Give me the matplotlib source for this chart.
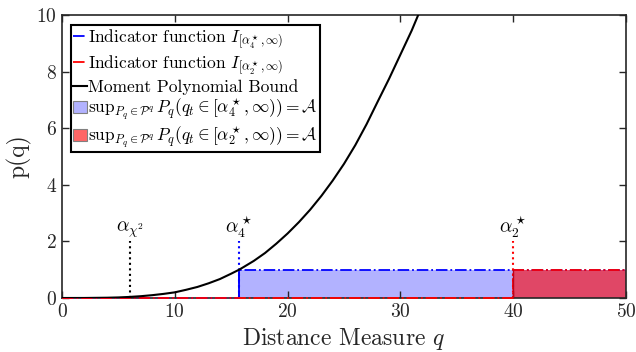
import matplotlib
matplotlib.use("Agg")
import matplotlib.pyplot as plt
from matplotlib.patches import Patch

plt.rcParams['font.family'] = ['cmr10', 'DejaVu Serif']
plt.rcParams['mathtext.fontset'] = 'cm'
plt.rcParams['axes.unicode_minus'] = False
plt.rcParams['axes.formatter.use_mathtext'] = True

# Data
q_curve = [0, 2, 4, 5, 6, 7, 8, 9, 10, 11, 12, 13, 14, 15, 15.7, 16, 17, 18, 19, 20, 21, 22,
           23, 24, 25, 26, 27, 28, 29, 30, 31, 32]
p_curve = [0, 0.001, 0.01, 0.02, 0.038, 0.064, 0.10, 0.145, 0.20, 0.29, 0.39, 0.52, 0.67,
           0.86, 1.0, 1.07, 1.31, 1.59, 1.92, 2.28, 2.68, 3.12, 3.61, 4.15, 4.74, 5.4,
           6.14, 6.95, 7.75, 8.6, 9.45, 10.4]
alpha_chi2 = 6.0
alpha_4 = 15.7
alpha_2 = 40.0
q_max = 50
marker_height = 2.0
labels = [r'$\alpha_{\chi^2}$', r'$\alpha_4^\star$', r'$\alpha_2^\star$']

fig = plt.figure(figsize=(6.36, 3.52), dpi=100)
ax = fig.add_axes([62/636, 1-298/352, 564/636, 283/352])

blue_fill = (0.0, 0.0, 1.0, 0.3)
red_fill = (1.0, 0.0, 0.0, 0.6)

ax.fill_between([alpha_4, q_max], [1, 1], [0, 0], color=blue_fill, lw=0, zorder=1)
ax.fill_between([alpha_2, q_max], [1, 1], [0, 0], color=red_fill, lw=0, zorder=2)

# Indicator functions
lb, = ax.plot([0, alpha_4, alpha_4, q_max], [0, 0, 1, 1], color='blue', ls='-.', lw=1.3,
              zorder=3, clip_on=False)
lr, = ax.plot([0, alpha_2, alpha_2, q_max], [0, 0, 1, 1], color='red', ls='-.', lw=1.3,
              zorder=4, clip_on=False)
ax.plot([alpha_4, alpha_4], [0, 1], color='blue', lw=1.3, zorder=3)
ax.plot([alpha_2, alpha_2], [0, 1], color=(0.75, 0, 0.1), lw=1.0, zorder=4)

lk, = ax.plot(q_curve, p_curve, color='black', lw=1.5, zorder=5)

# Vertical markers
for xv, col, lab in zip([alpha_chi2, alpha_4, alpha_2], ['black', 'blue', 'red'], labels):
    ax.plot([xv, xv], [0, marker_height], color=col, ls=':', lw=1.5, zorder=3)
    ax.text(xv, marker_height + 0.05, lab, ha='center', va='bottom', fontsize=14)

pb = Patch(facecolor=blue_fill, edgecolor=(0.5, 0.5, 0.5), lw=0.8)
pr = Patch(facecolor=red_fill, edgecolor=(0.5, 0.5, 0.5), lw=0.8)
leg = ax.legend([lb, lr, lk, pb, pr],
                [r'Indicator function $I_{[\alpha_4^\star,\infty)}$',
                 r'Indicator function $I_{[\alpha_2^\star,\infty)}$',
                 'Moment Polynomial Bound',
                 r'$\mathrm{sup}_{P_q\in\mathcal{P}^q}\, P_q(q_t\in[\alpha_4^\star,\infty))=\mathcal{A}$',
                 r'$\mathrm{sup}_{P_q\in\mathcal{P}^q}\, P_q(q_t\in[\alpha_2^\star,\infty))=\mathcal{A}$'],
                loc='upper left', bbox_to_anchor=(0.016, 0.965), fontsize=12.5,
                frameon=True, fancybox=False, edgecolor='black', framealpha=1,
                handlelength=0.8, handletextpad=0.1, borderpad=0.1, labelspacing=0.12,
                borderaxespad=0)
leg.get_frame().set_linewidth(1.5)

ax.set_xlim(0, q_max)
ax.set_ylim(0, 10)
ax.set_xticks([0, 10, 20, 30, 40, 50])
ax.set_yticks([0, 2, 4, 6, 8, 10])
ax.tick_params(direction='in', top=True, right=True, length=5, width=1, labelsize=14, colors='#262626')
for s in ax.spines.values():
    s.set_linewidth(1.2)
    s.set_color('#262626')
ax.set_xlabel(r'Distance Measure $q$', fontsize=17, color='#262626')
ax.set_ylabel('p(q)', fontsize=17, color='#262626')

fig.savefig('out.png', dpi=100)
